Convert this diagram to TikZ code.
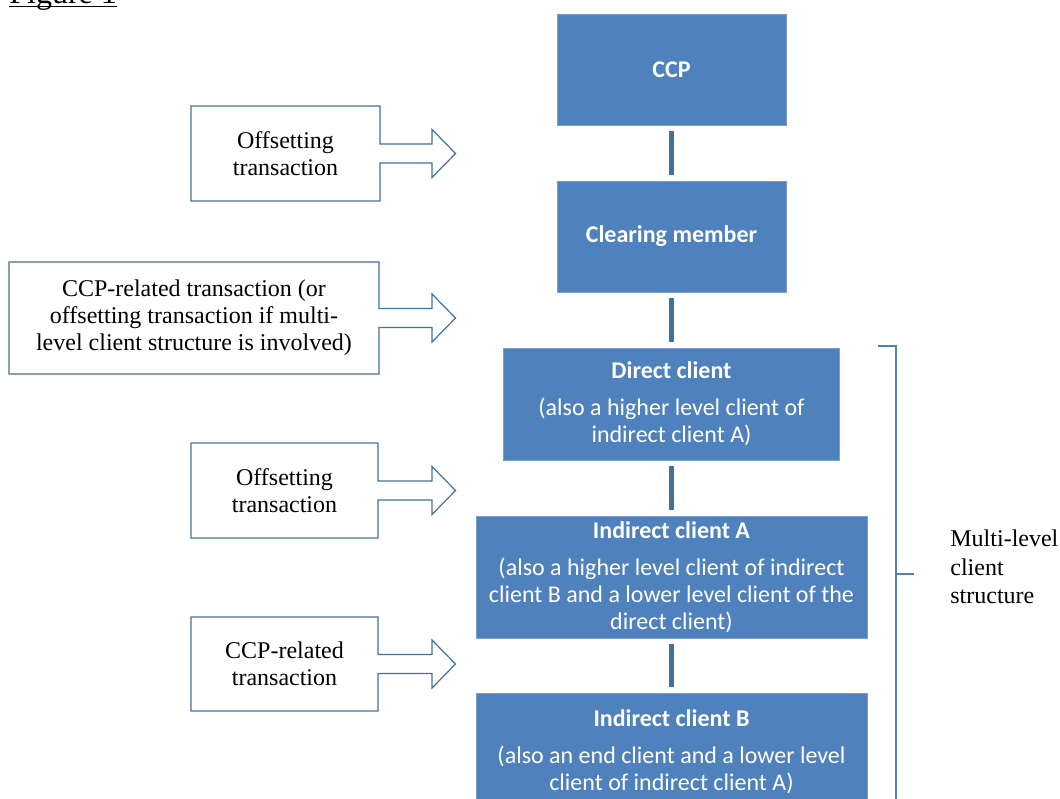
\documentclass[tikz,border=0pt]{standalone}
\usepackage{fontspec}
\setmainfont{Liberation Serif}
\newfontfamily\boxfont{Carlito}
\usetikzlibrary{calc}
\definecolor{boxblue}{HTML}{4F81BD}
\definecolor{edgeblue}{HTML}{41719C}
\definecolor{rimblue}{HTML}{7A9FCF}

\begin{document}
\begin{tikzpicture}[x=0.5pt, y=-0.5pt,
  blockbox/.style={rectangle, fill=boxblue, draw=rimblue, line width=0.4pt, text=white, align=center,
    font=\boxfont\fontsize{12}{13.5}\selectfont, inner sep=0pt},
  notebox/.style={rectangle, align=center, font=\fontsize{12}{13.5}\selectfont, inner sep=0pt, outer sep=0pt},
  noteline/.style={draw=edgeblue, line width=0.6pt, line join=miter},
  linkline/.style={draw=edgeblue, line width=2.5pt, shorten <=3pt, shorten >=3pt},
  bracketline/.style={draw=boxblue, line width=0.75pt}]
				  \useasboundingbox (0,0) rectangle (1060,798);
				  \node[anchor=base west, inner sep=0pt, font=\fontsize{16}{18}\selectfont] (fig) at (9,3) {Figure 1};
				  \draw[line width=0.75pt] ([yshift=-1.75pt]fig.base west) -- ([yshift=-1.75pt]fig.base east);
				  \node[blockbox, minimum width=114.5pt, minimum height=55.5pt] (ccp) at (671.5,69.5) {\textbf{CCP}};
				  \node[blockbox, minimum width=114.5pt, minimum height=55.5pt] (member) at (671.5,236.5) {\textbf{Clearing member}};
				  \node[blockbox, minimum width=168pt, minimum height=56pt] (direct) at (671.5,404)
				    {\textbf{Direct client}\\[5pt](also a higher level client of\\indirect client A)};
				  \node[blockbox, minimum width=195.5pt, minimum height=61pt] (indirA) at (671.5,577)
				    {\textbf{Indirect client A}\\[5pt](also a higher level client of indirect\\client B and a lower level client of the\\direct client)};
				  \node[blockbox, minimum width=195.5pt, minimum height=59pt] (indirB) at (671.5,752)
				    {\textbf{Indirect client B}\\[5pt](also an end client and a lower level\\client of indirect client A)};
				  \draw[linkline] (ccp.south) -- (member.north);
				  \draw[linkline] (member.south) -- (direct.north);
				  \draw[linkline] (direct.south) -- (indirA.north);
				  \draw[linkline] (indirA.south) -- (indirB.north);
				  \node[notebox, minimum width=94.5pt, minimum height=47.5pt] (offset1) at (285.5,153.5) {Offsetting\\transaction};
				  \node[notebox, minimum width=185pt, minimum height=56pt] (ccprel1) at (194,318)
				    {CCP-related transaction (or\\offsetting transaction if multi-\\level client structure is involved)};
				  \node[notebox, minimum width=93.5pt, minimum height=47.5pt] (offset2) at (284.5,490.5) {Offsetting\\transaction};
				  \node[notebox, minimum width=93.5pt, minimum height=47pt] (ccprel2) at (284.5,664) {CCP-related\\transaction};
				  \draw[noteline] (offset1.north west) -- (offset1.north east) -- ($(offset1.east)+(0,-9.5)$) -- ++(52,0) -- ++(0,-14.5)
				    -- ++(23.5,24) -- ++(-23.5,24) -- ++(0,-14.5) -- ++(-52,0) -- (offset1.south east) -- (offset1.south west) -- cycle;
				  \draw[noteline] (ccprel1.north west) -- (ccprel1.north east) -- ($(ccprel1.east)+(0,-9.5)$) -- ++(53,0) -- ++(0,-14.5)
				    -- ++(23.5,24) -- ++(-23.5,24) -- ++(0,-14.5) -- ++(-53,0) -- (ccprel1.south east) -- (ccprel1.south west) -- cycle;
				  \draw[noteline] (offset2.north west) -- (offset2.north east) -- ($(offset2.east)+(0,-9.5)$) -- ++(54,0) -- ++(0,-14.5)
				    -- ++(23.5,24) -- ++(-23.5,24) -- ++(0,-14.5) -- ++(-54,0) -- (offset2.south east) -- (offset2.south west) -- cycle;
				  \draw[noteline] (ccprel2.north west) -- (ccprel2.north east) -- ($(ccprel2.east)+(0,-9.5)$) -- ++(54,0) -- ++(0,-14.5)
				    -- ++(23.5,24) -- ++(-23.5,24) -- ++(0,-14.5) -- ++(-54,0) -- (ccprel2.south east) -- (ccprel2.south west) -- cycle;
				  \coordinate (brtop) at (878,346);
				  \coordinate (brmid) at (896,574);
				  \draw[bracketline] (brtop) -- ++(18,0) -- ++(0,456);
				  \draw[bracketline] (brmid) -- ++(18,0);
				  \node[anchor=west, align=left, inner sep=0pt, font=\fontsize{12}{14.2}\selectfont] (multi) at (950,567)
				    {Multi-level\\client\\structure};
				\end{tikzpicture}
\end{document}
